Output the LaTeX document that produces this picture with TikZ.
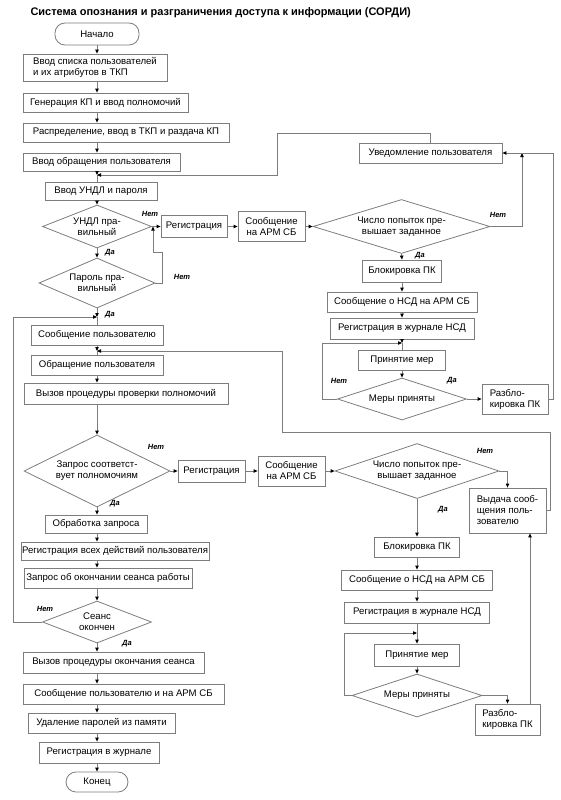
\documentclass[tikz,border=0pt]{standalone}
\usepackage{fontspec}
\setmainfont{Liberation Sans}
\usetikzlibrary{arrows.meta,shapes.geometric}
\definecolor{ln}{RGB}{125,125,125}
\begin{document}
\begin{tikzpicture}[x=1pt,y=-1pt,
  every node/.style={font=\fontsize{9.6}{11}\selectfont, text=black},
  box/.style={draw=ln, line width=0.8pt, rectangle, inner sep=1pt, align=center},
  term/.style={box, rounded corners=10pt},
  dia/.style={draw=ln, line width=0.8pt, diamond, inner sep=-4pt, align=center},
  lbl/.style={font=\fontsize{7.5}{8}\selectfont\bfseries\itshape},
  con/.style={draw=ln, line width=0.8pt},
  arr/.style={con, -{Triangle[length=4pt,width=3.4pt,color=black]}},
]
\useasboundingbox (0,0) rectangle (560,800);
\node[anchor=west, font=\fontsize{11}{12}\selectfont\bfseries] (title) at (27,12.5) {Система опознания и разграничения доступа к информации (СОРДИ)};

\coordinate (ax) at (97,0);
\coordinate (x530) at (530,0);

\node[term, minimum width=84, minimum height=22] (start) at (97,34) {Начало};
\node[box, minimum width=144, minimum height=27, align=left] (b1) at (95,67.5) {Ввод списка пользователей\\и их атрибутов в ТКП};
\node[box, minimum width=165, minimum height=19] (b2) at (105.5,102.5) {Генерация КП и ввод полномочий};
\node[box, minimum width=206, minimum height=19] (b3) at (126,132.5) {Распределение, ввод в ТКП и раздача КП};
\node[box, minimum width=157, minimum height=18] (b4) at (101.5,162) {Ввод обращения пользователя};
\node[box, minimum width=112, minimum height=18] (b5) at (101,191) {Ввод УНДЛ и пароля};
\node[dia, minimum width=109, minimum height=43, aspect=2.53] (d1) at (97,226.5) {УНДЛ пра-\\вильный};
\node[box, minimum width=66, minimum height=22] (r1) at (194,226.5) {Регистрация};
\node[box, minimum width=67, minimum height=30] (s1) at (271.5,226.5) {Сообщение\\на АРМ СБ};
\node[dia, minimum width=177, minimum height=54, aspect=3.28] (d2) at (401.5,226.5) {Число попыток пре-\\вышает заданное};
\node[box, minimum width=143, minimum height=20] (u1) at (430.5,153) {Уведомление пользователя};
\node[box, minimum width=79, minimum height=22] (bl1) at (402,271) {Блокировка ПК};
\node[box, minimum width=150, minimum height=20] (n1) at (402,302) {Сообщение о НСД на АРМ СБ};
\node[box, minimum width=144, minimum height=21] (j1) at (402,328.5) {Регистрация в журнале НСД};
\node[box, minimum width=87, minimum height=20] (p1) at (402,360) {Принятие мер};
\node[dia, minimum width=129, minimum height=42, aspect=3.07] (m1) at (402,399) {Меры приняты};
\node[box, minimum width=66, minimum height=30, align=left] (ub1) at (515,399) {Разбло-\\кировка ПК};

\node[dia, minimum width=116, minimum height=50, aspect=2.32] (d3) at (97,283) {Пароль пра-\\вильный};
\node[box, minimum width=132, minimum height=20] (c1) at (97,335) {Сообщение пользователю};
\node[box, minimum width=132, minimum height=20] (c2) at (97,365) {Обращение пользователя};
\node[box, minimum width=204, minimum height=21] (c3) at (126,393.5) {Вызов процедуры проверки полномочий};
\node[dia, minimum width=146, minimum height=72, aspect=2.03] (d4) at (97,471) {Запрос соответст-\\вует полномочиям};
\node[box, minimum width=67, minimum height=22] (r2) at (211.5,471) {Регистрация};
\node[box, minimum width=67, minimum height=30] (s2) at (291.5,471) {Сообщение\\на АРМ СБ};
\node[dia, minimum width=164, minimum height=55, aspect=2.98] (d5) at (417,471) {Число попыток пре-\\вышает заданное};
\node[box, minimum width=77, minimum height=45, align=left] (v1) at (507.5,510.5) {Выдача сооб-\\щения поль-\\зователю};
\node[box, minimum width=85, minimum height=20] (bl2) at (417,547) {Блокировка ПК};
\node[box, minimum width=151, minimum height=20] (n2) at (417,580) {Сообщение о НСД на АРМ СБ};
\node[box, minimum width=145, minimum height=21] (j2) at (417,612.5) {Регистрация в журнале НСД};
\node[box, minimum width=85, minimum height=22] (p2) at (417,655) {Принятие мер};
\node[dia, minimum width=130, minimum height=43, aspect=3.02] (m2) at (417,695.5) {Меры приняты};
\node[box, minimum width=65, minimum height=31, align=left] (ub2) at (507.5,719.5) {Разбло-\\кировка ПК};

\node[box, minimum width=102, minimum height=18] (c4) at (96,524) {Обработка запроса};
\node[box, minimum width=184, minimum height=18] (c5) at (115,551) {Регистрация всех действий пользователя};
\node[box, minimum width=168, minimum height=20] (c6) at (108,578) {Запрос об окончании сеанса работы};
\node[dia, minimum width=109, minimum height=42, aspect=2.6] (d6) at (97,622) {Сеанс\\окончен};
\node[box, minimum width=181, minimum height=21] (e1) at (113.5,662.5) {Вызов процедуры окончания сеанса};
\node[box, minimum width=201, minimum height=20] (e2) at (123.5,694) {Сообщение пользователю и на АРМ СБ};
\node[box, minimum width=147, minimum height=20] (e3) at (101.5,723) {Удаление паролей из памяти};
\node[box, minimum width=120, minimum height=21] (e4) at (99,752.5) {Регистрация в журнале};
\node[term, minimum width=62, minimum height=20] (end) at (97,782) {Конец};

% junctions
\coordinate (jA) at (97,175);
\coordinate (jC) at (97,317);
\coordinate (jD) at (97,351);
\coordinate (jB) at (402,343);
\coordinate (jE) at (417,633);
\coordinate (jR) at (153,226.5);
\coordinate (jU) at (522,153);

% main column top
\draw[arr] (start) -- (b1.north -| ax);
\draw[arr] (b1.south -| ax) -- (b2.north -| ax);
\draw[arr] (b2.south -| ax) -- (b3.north -| ax);
\draw[arr] (b3.south -| ax) -- (b4.north -| ax);
\draw[arr] (b4.south -| ax) -- (jA);
\draw[con] (jA) -- (b5.north -| ax);
\draw[arr] (b5.south -| ax) -- (d1.north);
\draw[arr] (d1.east) -- (r1.west);
\draw[arr] (r1) -- (s1);
\draw[arr] (s1.east) -- (d2.west);
\draw[arr] (d2.east) -| (jU);
\draw[arr] (ub1.east) -- (553,399) |- (u1.east);
\draw[arr] (u1.north) -- (430.5,133) -- (277,133) -- (277,175) -- (jA);
\draw[arr] (d2.south) -- (bl1.north);
\draw[arr] (bl1) -- (n1);
\draw[arr] (n1) -- (j1);
\draw[arr] (j1) -- (jB);
\draw[con] (jB) -- (p1.north);
\draw[arr] (p1) -- (m1.north);
\draw[arr] (m1.west) -- (322,399) |- (jB);
\draw[arr] (m1.east) -- (ub1.west);

\draw[arr] (d1.south) -- (d3.north);
\draw[arr] (d3.east) -- (162,283) -- (162,252) -- (153,252) -- (jR);
\draw[arr] (d3.south) -- (jC);
\draw[con] (jC) -- (c1.north);
\draw[arr] (d6.west) -- (13,622) |- (jC);
\draw[arr] (c1.south) -- (jD);
\draw[con] (jD) -- (c2.north);
\draw[arr] (v1.east) -- (550,510.5) |- (282,432) |- (jD);
\draw[arr] (c2.south) -- (c3.north -| ax);
\draw[arr] (c3.south -| ax) -- (d4.north);
\draw[arr] (d4.east) -- (r2.west);
\draw[arr] (r2) -- (s2);
\draw[arr] (s2.east) -- (d5.west);
\draw[arr] (d5.east) -| (v1.north);
\draw[arr] (d5.south) -- (bl2.north);
\draw[arr] (bl2) -- (n2);
\draw[arr] (n2) -- (j2);
\draw[arr] (j2) -- (p2);
\draw[arr] (p2) -- (m2.north);
\draw[arr] (m2.west) -- (344,695.5) |- (jE);
\draw[arr] (m2.east) -| (ub2.north);
\draw[arr] (ub2.north -| x530) -- (v1.south -| x530);

\draw[arr] (d4.south) -- (c4.north -| ax);
\draw[arr] (c4.south -| ax) -- (c5.north -| ax);
\draw[arr] (c5.south -| ax) -- (c6.north -| ax);
\draw[arr] (c6.south -| ax) -- (d6.north);
\draw[arr] (d6.south) -- (e1.north -| ax);
\draw[arr] (e1.south -| ax) -- (e2.north -| ax);
\draw[arr] (e2.south -| ax) -- (e3.north -| ax);
\draw[arr] (e3.south -| ax) -- (e4.north -| ax);
\draw[arr] (e4.south -| ax) -- (end);

% labels
\node[lbl] (l1) at (150,214) {Нет};
\node[lbl] (l2) at (110,253) {Да};
\node[lbl] (l3) at (182,277) {Нет};
\node[lbl] (l4) at (110,315) {Да};
\node[lbl] (l5) at (498,215) {Нет};
\node[lbl] (l6) at (420,256) {Да};
\node[lbl] (l7) at (339,381) {Нет};
\node[lbl] (l8) at (452,381) {Да};
\node[lbl] (l9) at (156,447) {Нет};
\node[lbl] (l10) at (115,504) {Да};
\node[lbl] (l11) at (485,451) {Нет};
\node[lbl] (l12) at (443,510) {Да};
\node[lbl] (l13) at (45,609) {Нет};
\node[lbl] (l14) at (127,644) {Да};
\end{tikzpicture}
\end{document}
